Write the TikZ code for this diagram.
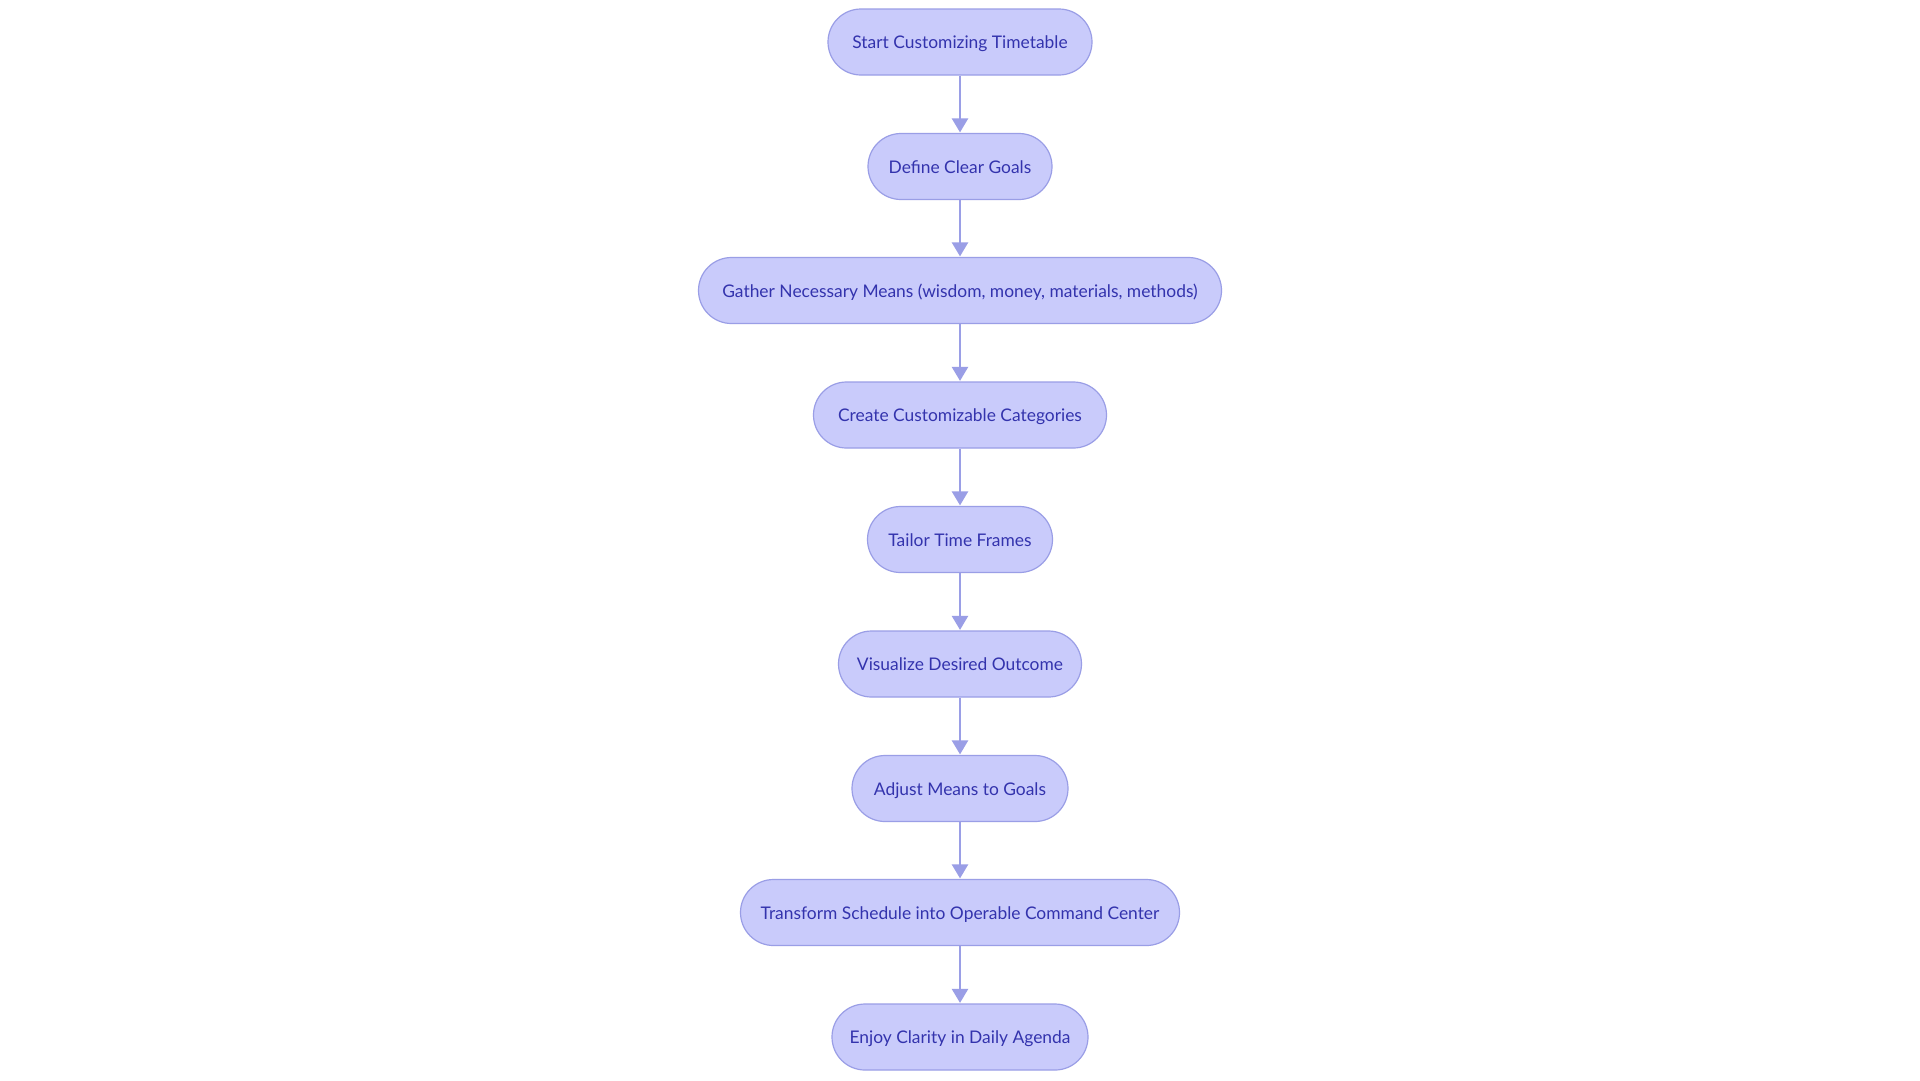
\documentclass[tikz,border=0pt]{standalone}
\usepackage{fontspec}
\setmainfont{Lato}
\usetikzlibrary{arrows.meta}
\definecolor{nodefill}{HTML}{C9CBFB}
\definecolor{nodedraw}{HTML}{9A9EE6}
\definecolor{nodetext}{HTML}{3333AD}
\definecolor{linecol}{HTML}{9A9EE6}
\tikzset{
  stepbox/.style={draw=nodedraw, line width=1.2pt, fill=nodefill, rounded corners=33pt,
    minimum height=66pt, inner sep=0pt, text=nodetext, text height=15pt, text depth=2pt,
    font=\fontsize{17.4pt}{21pt}\selectfont},
  flow/.style={draw=linecol, line width=2.4pt, -{Triangle[width=16pt,length=14pt]}, shorten >=0.5pt}
}
\begin{document}
\begin{tikzpicture}[x=1pt,y=-1pt]
\useasboundingbox (0,0) rectangle (1920,1080);
\fill[white] (0,0) rectangle (1920,1080);
\node[stepbox, minimum width=264pt] (n1) at (960,42) {Start Customizing Timetable};
\node[stepbox, minimum width=184pt] (n2) at (960,166.5) {Define Clear Goals};
\node[stepbox, minimum width=523pt] (n3) at (960,290.5) {Gather Necessary Means (wisdom, money, materials, methods)};
\node[stepbox, minimum width=293pt] (n4) at (960,415) {Create Customizable Categories};
\node[stepbox, minimum width=185pt] (n5) at (960,539.5) {Tailor Time Frames};
\node[stepbox, minimum width=243pt] (n6) at (960,664) {Visualize Desired Outcome};
\node[stepbox, minimum width=216pt] (n7) at (960,788.5) {Adjust Means to Goals};
\node[stepbox, minimum width=439pt] (n8) at (960,912.5) {Transform Schedule into Operable Command Center};
\node[stepbox, minimum width=256pt] (n9) at (960,1037) {Enjoy Clarity in Daily Agenda};
\foreach \a/\b in {n1/n2,n2/n3,n3/n4,n4/n5,n5/n6,n6/n7,n7/n8,n8/n9}
  \draw[flow] (\a.south) -- (\b.north);
\end{tikzpicture}
\end{document}
